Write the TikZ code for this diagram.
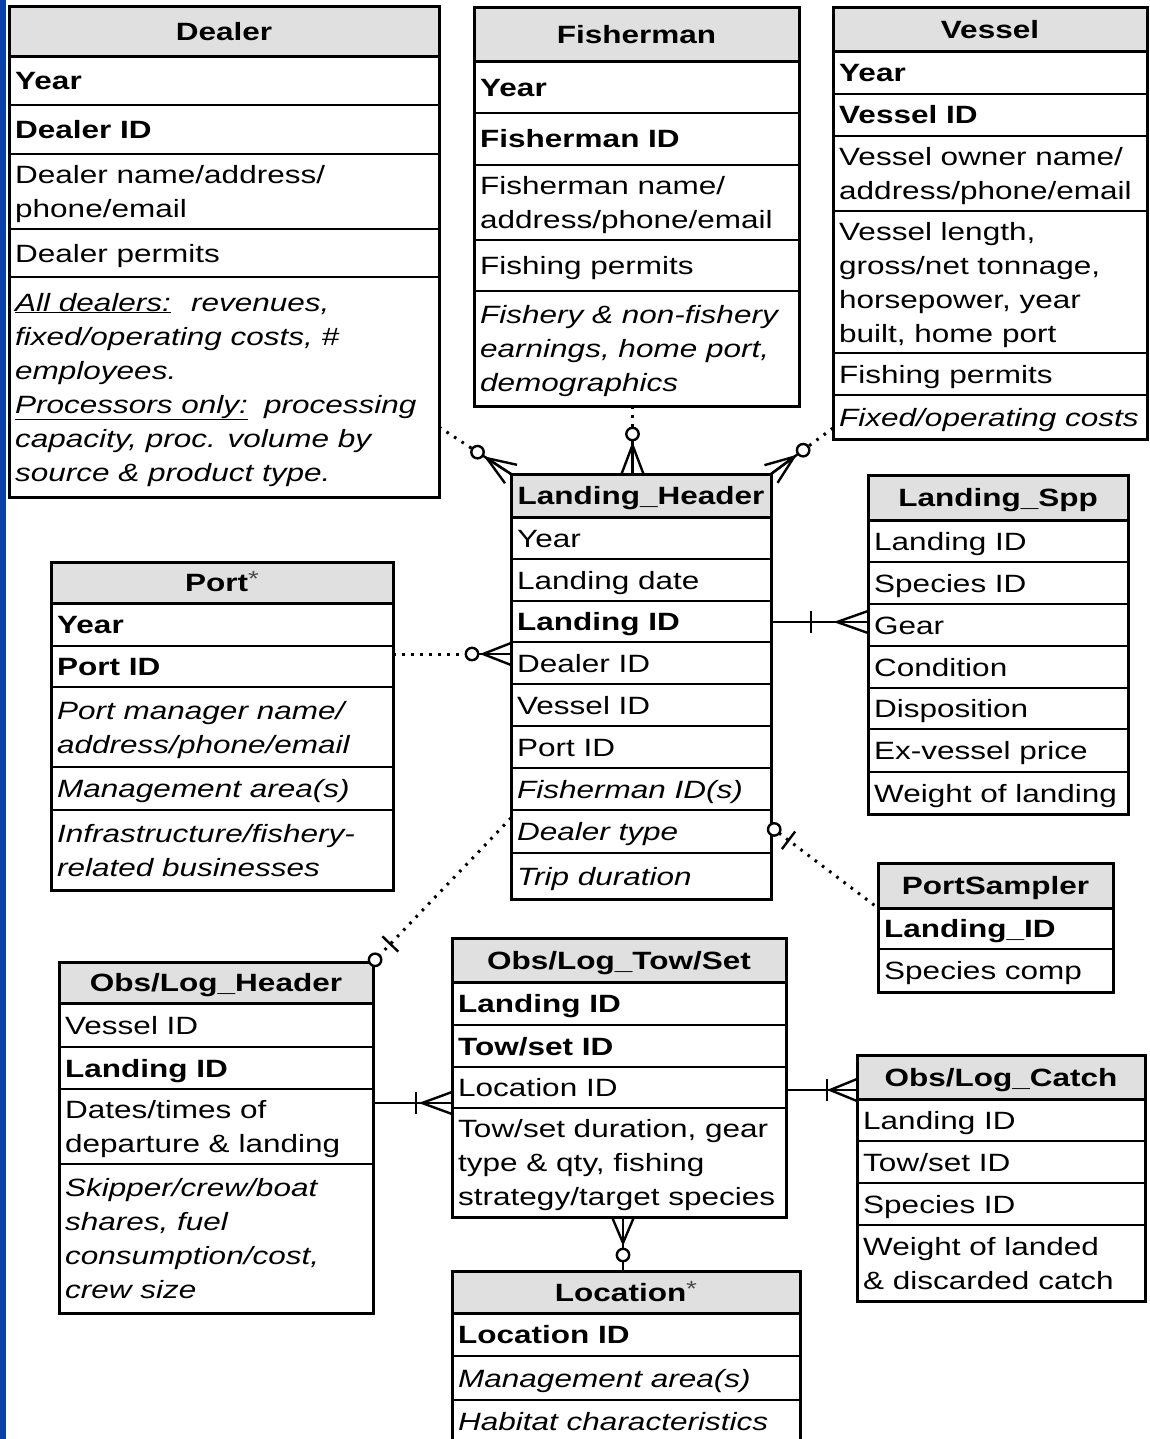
\documentclass[tikz,border=0pt]{standalone}
\usepackage{fontspec}
\setmainfont{Liberation Sans}[FakeStretch=1.26]
\usetikzlibrary{calc}
\definecolor{barblue}{RGB}{6,66,168}
\definecolor{hdrgray}{RGB}{224,224,224}
\newcommand\sst{\rule[-8pt]{0pt}{34pt}}
\tikzset{
  entbox/.style={draw=black, line width=3pt, rectangle, inner sep=0pt, outer sep=0pt, anchor=north west},
  sep/.style={line width=1.6pt},
  hsep/.style={line width=3pt},
  fld/.style={anchor=west, inner sep=0pt, align=left, font=\fontsize{25}{34}\selectfont},
  fldb/.style={fld, font=\fontsize{25}{34}\selectfont\bfseries},
  fldi/.style={fld, font=\fontsize{25}{34}\selectfont\itshape},
  ttl/.style={anchor=center, inner sep=0pt, font=\fontsize{25}{34}\selectfont\bfseries},
  rel/.style={line width=2.4pt},
  opt/.style={line width=3pt, dash pattern=on 2.6pt off 6.4pt},
}
% entity frame: name, L, T, R, header bottom, B, title
\newcommand\entity[7]{%
  \fill[hdrgray] (#2,#3) rectangle (#4,#5);
  \draw[hsep] (#2,#5) -- (#4,#5);
  \node[entbox, minimum width={(#4-#2)*1pt}, minimum height={(#6-#3)*1pt}] (#1) at (#2,#3) {};
  \node[ttl] (#1-t) at ({(#2+#4)/2},{(#3+#5)/2}) {\sst #7};
}
\newcommand\hl[3]{\draw[sep] (#1,#3) -- (#2,#3);}
\newcommand\fl[5][fld]{\node[#1] (#2) at ({#3+6},#4) {\sst #5};}
\newcommand\entast{{\mdseries\color{black!70}\raisebox{5pt}{\fontsize{22}{22}\selectfont *}}}
% connector end symbols
\newcommand\crowfoot[3]{%
  \coordinate (cfv) at ($(#1)!#3!(#2)$);
  \draw[rel] ($(#1)!11pt!90:(#2)$) -- (cfv) -- ($(#1)!11pt!-90:(#2)$);
  \draw[rel] (cfv) -- (#1);
}
\newcommand\obar[3]{%
  \coordinate (obc) at ($(#1)!#3!(#2)$);
  \draw[rel] ($(obc)!11pt!90:(#2)$) -- ($(obc)!11pt!-90:(#2)$);
}
\newcommand\ocirc[3]{\draw[rel, fill=white] ($(#1)!#3!(#2)$) circle (6.2pt);}
\begin{document}
\begin{tikzpicture}[x=1pt,y=-1pt]
\useasboundingbox (0,0) rectangle (1150,1439);
\fill[white] (0,0) rectangle (1150,1439);
\fill[barblue] (0,0) rectangle (6,1439);

% ---------- Dealer ----------
\hl{9}{439}{105}\hl{9}{439}{154}\hl{9}{439}{229}\hl{9}{439}{277}
\entity{dealer}{9}{7}{439}{57}{497}{Dealer}
\fl[fldb]{dealer-1}{9}{81}{Year}
\fl[fldb]{dealer-2}{9}{129.5}{Dealer ID}
\fl{dealer-3}{9}{191.5}{Dealer name/address/\\\sst phone/email}
\fl{dealer-4}{9}{253}{Dealer permits}
\fl[fldi]{dealer-5}{9}{387}{\underline{All dealers:}\hspace{20pt}revenues,\\\sst fixed/operating costs, \#\\\sst employees.\\\sst \underline{Processors only:}\hspace{16pt}processing\\\sst capacity, proc. volume by\\\sst source \& product type.}

% ---------- Fisherman ----------
\hl{474}{799}{113}\hl{474}{799}{165}\hl{474}{799}{240}\hl{474}{799}{291}
\entity{fish}{474}{8}{799}{62}{406}{Fisherman}
\fl[fldb]{fish-1}{474}{87.5}{Year}
\fl[fldb]{fish-2}{474}{139}{Fisherman ID}
\fl{fish-3}{474}{202.5}{Fisherman name/\\\sst address/phone/email}
\fl{fish-4}{474}{265.5}{Fishing permits}
\fl[fldi]{fish-5}{474}{348.5}{Fishery \& non-fishery\\\sst earnings, home port,\\\sst demographics}

% ---------- Vessel ----------
\hl{833}{1147}{94}\hl{833}{1147}{136}\hl{833}{1147}{211}\hl{833}{1147}{353}\hl{833}{1147}{395}
\entity{vessel}{833}{8}{1147}{52}{439}{Vessel}
\fl[fldb]{vessel-1}{833}{73}{Year}
\fl[fldb]{vessel-2}{833}{115}{Vessel ID}
\fl{vessel-3}{833}{173.5}{Vessel owner name/\\\sst address/phone/email}
\fl{vessel-4}{833}{282}{Vessel length,\\\sst gross/net tonnage,\\\sst horsepower, year\\\sst built, home port}
\fl{vessel-5}{833}{374}{Fishing permits}
\fl[fldi]{vessel-6}{833}{417}{Fixed/operating costs}

% ---------- Landing_Header ----------
\hl{511}{771}{559}\hl{511}{771}{601}\hl{511}{771}{642}\hl{511}{771}{684}
\hl{511}{771}{726}\hl{511}{771}{768}\hl{511}{771}{810}\hl{511}{771}{853}
\entity{lh}{511}{474}{771}{517}{899}{Landing\_Header}
\fl{lh-1}{511}{538}{Year}
\fl{lh-2}{511}{580}{Landing date}
\fl[fldb]{lh-3}{511}{621.5}{Landing ID}
\fl{lh-4}{511}{663}{Dealer ID}
\fl{lh-5}{511}{705}{Vessel ID}
\fl{lh-6}{511}{747}{Port ID}
\fl[fldi]{lh-7}{511}{789}{Fisherman ID(s)}
\fl[fldi]{lh-8}{511}{831.5}{Dealer type}
\fl[fldi]{lh-9}{511}{876}{Trip duration}

% ---------- Landing_Spp ----------
\hl{868}{1128}{562}\hl{868}{1128}{604}\hl{868}{1128}{646}\hl{868}{1128}{688}
\hl{868}{1128}{729}\hl{868}{1128}{772}
\entity{spp}{868}{475}{1128}{520}{814}{Landing\_Spp}
\fl{spp-1}{868}{541}{Landing ID}
\fl{spp-2}{868}{583}{Species ID}
\fl{spp-3}{868}{625}{Gear}
\fl{spp-4}{868}{667}{Condition}
\fl{spp-5}{868}{708.5}{Disposition}
\fl{spp-6}{868}{750.5}{Ex-vessel price}
\fl{spp-7}{868}{793}{Weight of landing}

% ---------- Port ----------
\hl{51}{393}{646}\hl{51}{393}{687}\hl{51}{393}{767}\hl{51}{393}{810}
\entity{port}{51}{562}{393}{603}{890}{Port\entast}
\fl[fldb]{port-1}{51}{624.5}{Year}
\fl[fldb]{port-2}{51}{666.5}{Port ID}
\fl[fldi]{port-3}{51}{727}{Port manager name/\\\sst address/phone/email}
\fl[fldi]{port-4}{51}{788.5}{Management area(s)}
\fl[fldi]{port-5}{51}{850}{Infrastructure/fishery-\\\sst related businesses}

% ---------- PortSampler ----------
\hl{878}{1113}{949}
\entity{ps}{878}{863}{1113}{908}{992}{PortSampler}
\fl[fldb]{ps-1}{878}{928.5}{Landing\_ID}
\fl{ps-2}{878}{970.5}{Species comp}

% ---------- Obs/Log_Header ----------
\hl{59}{373}{1047}\hl{59}{373}{1089}\hl{59}{373}{1164}
\entity{olh}{59}{962}{373}{1003}{1313}{Obs/Log\_Header}
\fl{olh-1}{59}{1025}{Vessel ID}
\fl[fldb]{olh-2}{59}{1068}{Landing ID}
\fl{olh-3}{59}{1126.5}{Dates/times of\\\sst departure \& landing}
\fl[fldi]{olh-4}{59}{1238.5}{Skipper/crew/boat\\\sst shares, fuel\\\sst consumption/cost,\\\sst crew size}

% ---------- Obs/Log_Tow/Set ----------
\hl{452}{786}{1025}\hl{452}{786}{1067}\hl{452}{786}{1108}
\entity{olt}{452}{938}{786}{982}{1217}{Obs/Log\_Tow/Set}
\fl[fldb]{olt-1}{452}{1003.5}{Landing ID}
\fl[fldb]{olt-2}{452}{1046}{Tow/set ID}
\fl{olt-3}{452}{1087.5}{Location ID}
\fl{olt-4}{452}{1162.5}{Tow/set duration, gear\\\sst type \& qty, fishing\\\sst strategy/target species}

% ---------- Location ----------
\hl{452}{800}{1356}\hl{452}{800}{1400}
\entity{loc}{452}{1271}{800}{1313}{1443}{Location\entast}
\fl[fldb]{loc-1}{452}{1334.5}{Location ID}
\fl[fldi]{loc-2}{452}{1378}{Management area(s)}
\fl[fldi]{loc-3}{452}{1421}{Habitat characteristics}

% ---------- Obs/Log_Catch ----------
\hl{857}{1145}{1141}\hl{857}{1145}{1183}\hl{857}{1145}{1225}
\entity{olc}{857}{1055}{1145}{1099}{1301}{Obs/Log\_Catch}
\fl{olc-1}{857}{1120}{Landing ID}
\fl{olc-2}{857}{1162}{Tow/set ID}
\fl{olc-3}{857}{1204}{Species ID}
\fl{olc-4}{857}{1263}{Weight of landed\\\sst \& discarded catch}

% ================= connectors =================
% Dealer -- Landing_Header (zero or many)
\coordinate (d1) at ($(dealer.south east)+(0,-70)$);
\draw[opt] (d1) -- ($(lh.north west)!47pt!(d1)$);
\draw[rel] ($(lh.north west)!34pt!(d1)$) -- (lh.north west);
\crowfoot{lh.north west}{d1}{29pt}
\ocirc{lh.north west}{d1}{40pt}

% Fisherman -- Landing_Header
\coordinate (f1) at ($(fish.south)+(-4,0)$);
\coordinate (f2) at (f1 |- lh.north);
\draw[opt] (f1) -- ($(f2)!47pt!(f1)$);
\draw[rel] ($(f2)!34pt!(f1)$) -- (f2);
\crowfoot{f2}{f1}{29pt}
\ocirc{f2}{f1}{40pt}

% Vessel -- Landing_Header
\coordinate (v1) at ($(vessel.south west)+(0,-11)$);
\draw[opt] (v1) -- ($(lh.north east)!47pt!(v1)$);
\draw[rel] ($(lh.north east)!34pt!(v1)$) -- (lh.north east);
\crowfoot{lh.north east}{v1}{29pt}
\ocirc{lh.north east}{v1}{40pt}

% Port -- Landing_Header
\coordinate (p1) at ($(port.north east)+(0,92)$);
\coordinate (p2) at (p1 -| lh.west);
\draw[opt] (p1) -- ($(p2)!46pt!(p1)$);
\draw[rel] ($(p2)!33pt!(p1)$) -- (p2);
\crowfoot{p2}{p1}{28pt}
\ocirc{p2}{p1}{39pt}

% Landing_Header -- Landing_Spp (one to many)
\coordinate (s1) at ($(lh.north east)+(0,148)$);
\coordinate (s2) at (s1 -| spp.west);
\draw[rel] (s1) -- (s2);
\crowfoot{s2}{s1}{31pt}
\obar{s2}{s1}{57pt}

% Landing_Header -- PortSampler (zero or one)
\coordinate (q1) at ($(lh.south east)+(0,-72)$);
\coordinate (q2) at ($(ps.north west)+(0,45)$);
\draw[opt] ($(q1)!10pt!(q2)$) -- (q2);
\obar{q1}{q2}{22pt}
\ocirc{q1}{q2}{4pt}

% Landing_Header -- Obs/Log_Header (zero or one)
\coordinate (h1) at ($(lh.south west)+(0,-81)$);
\draw[opt] (h1) -- ($(olh.north east)!9pt!(h1)$);
\obar{olh.north east}{h1}{25pt}
\ocirc{olh.north east}{h1}{3pt}

% Obs/Log_Header -- Obs/Log_Tow/Set (one to many)
\coordinate (t1) at ($(olh.north east)+(0,141)$);
\coordinate (t2) at (t1 -| olt.west);
\draw[rel] (t1) -- (t2);
\crowfoot{t2}{t1}{30pt}
\obar{t2}{t1}{36pt}

% Obs/Log_Tow/Set -- Obs/Log_Catch (one to many)
\coordinate (k1) at ($(olt.north east)+(0,152)$);
\coordinate (k2) at (k1 -| olc.west);
\draw[rel] (k1) -- (k2);
\crowfoot{k2}{k1}{27pt}
\obar{k2}{k1}{30pt}

% Obs/Log_Tow/Set -- Location (zero or many)
\coordinate (l1) at ($(olt.south)+(4,0)$);
\coordinate (l2) at (l1 |- loc.north);
\draw[rel] (l1) -- (l2);
\crowfoot{l1}{l2}{26pt}
\ocirc{l1}{l2}{38pt}
\end{tikzpicture}
\end{document}
